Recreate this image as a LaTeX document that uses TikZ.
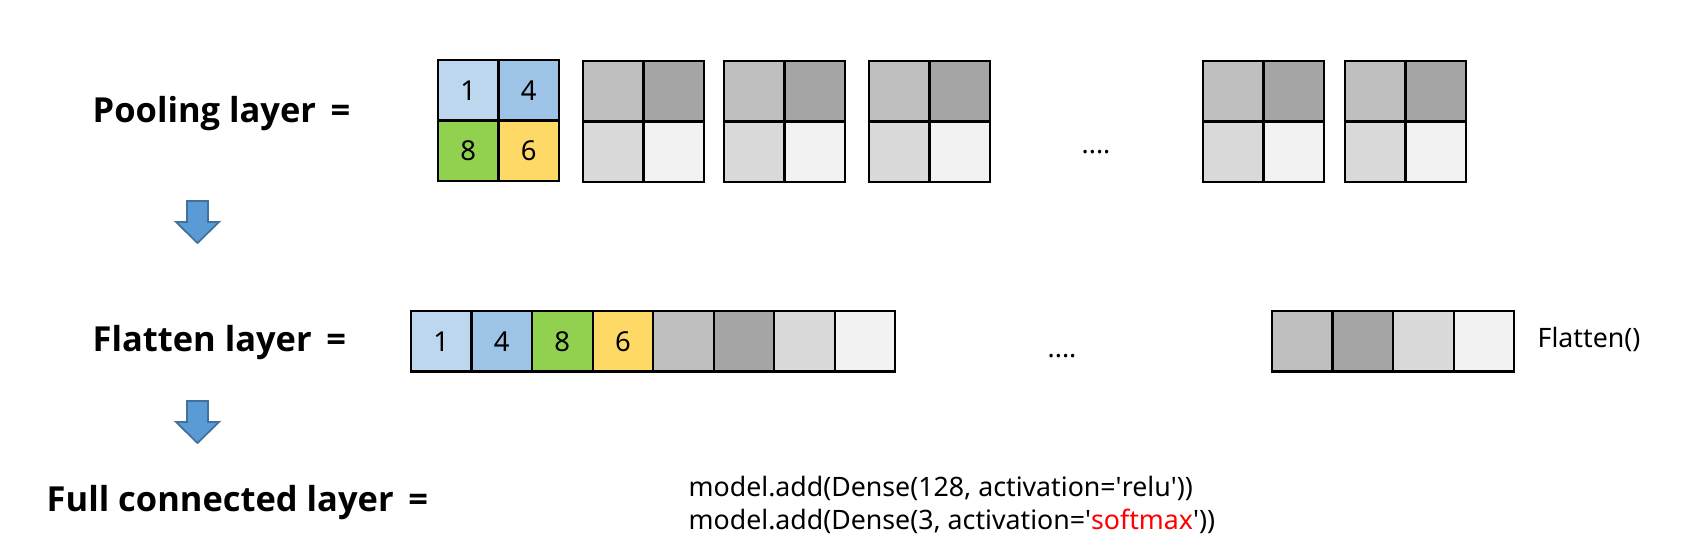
\documentclass[tikz,border=0pt]{standalone}
\usepackage{fontspec}
\setmainfont{Noto Sans}
\newfontfamily\titlefont{Open Sans}
\usetikzlibrary{positioning}
\definecolor{lblue}{HTML}{BDD7EE}
\definecolor{mblue}{HTML}{9DC3E6}
\definecolor{lgreen}{HTML}{92D050}
\definecolor{lyellow}{HTML}{FFD966}
\definecolor{gA}{HTML}{BFBFBF}
\definecolor{gB}{HTML}{A5A5A5}
\definecolor{gC}{HTML}{D9D9D9}
\definecolor{gD}{HTML}{F2F2F2}
\definecolor{arrfill}{HTML}{5B9BD5}
\definecolor{arrline}{HTML}{41719C}

\begin{document}
\begin{tikzpicture}[x=0.01cm, y=-0.01cm,
    cell/.style={draw=black, line width=0.6pt, minimum size=0.605cm, inner sep=0pt, outer sep=0pt,
      font=\fontsize{7.8}{9}\selectfont},
    title/.style={anchor=base west, inner sep=0pt, font=\titlefont\fontsize{9.8}{12}\selectfont\bfseries},
    code/.style={anchor=base west, inner sep=0pt, font=\fontsize{7.6}{9}\selectfont},
    downarrow/.style={fill=arrfill, draw=arrline, line width=0.5pt}]
  \useasboundingbox (0,0) rectangle (1693,555);

  % labels
  \node [title] (pool) at (92,123) {Pooling layer \,=};
  \node [title] (flat) at (92,352) {Flatten layer \,=};
  \node [title] (full) at (46,512) {Full connected layer \,=};

  % pooling layer
  \node [cell, fill=lblue, anchor=north west] (p1a) at (438,60) {1};
  \node [cell, fill=mblue, right=0pt of p1a] (p1b) {4};
  \node [cell, fill=lgreen, below=0pt of p1a] (p1c) {8};
  \node [cell, fill=lyellow, right=0pt of p1c] (p1d) {6};
  \foreach \n/\x in {2/583, 3/724, 4/869, 5/1203, 6/1345} {
    \node [cell, fill=gA, anchor=north west] (p\n a) at (\x,61) {};
    \node [cell, fill=gB, right=0pt of p\n a] (p\n b) {};
    \node [cell, fill=gC, below=0pt of p\n a] (p\n c) {};
    \node [cell, fill=gD, right=0pt of p\n c] (p\n d) {};
  };
  \node [code, anchor=base] (pdots) at (1096,154) {....};

  % flatten layer
  \node [cell, fill=lblue, anchor=north west] (f1) at (411,311) {1};
  \foreach \c/\t [count=\i from 2, evaluate=\i as \j using int(\i-1)] in
      {mblue/4, lgreen/8, lyellow/6, gA/, gB/, gC/, gD/} {
    \node [cell, fill=\c, right=0pt of f\j] (f\i) {\t};
  };
  \node [cell, fill=gA, anchor=north west] (g1) at (1272,311) {};
  \foreach \c [count=\i from 2, evaluate=\i as \j using int(\i-1)] in {gB, gC, gD} {
    \node [cell, fill=\c, right=0pt of g\j] (g\i) {};
  };
  \node [code, anchor=base] (fdots) at (1062,358) {....};
  \node [code] (fcall) at (1537,348) {Flatten()};

  % full connected layer
  \node [code] (dense1) at (688,497) {model.add(Dense(128, activation=\textquotesingle relu\textquotesingle))};
  \node [code] (dense2) at (688,530) {model.add(Dense(3, activation=\textquotesingle\textcolor{red}{softmax}\textquotesingle))};

  % block arrows
  \foreach \y [count=\k] in {201, 401} {
    \filldraw [downarrow] (187,\y) -- (208,\y) -- (208,\y+21) -- (219,\y+21) -- (197.5,\y+42)
      -- (176,\y+21) -- (187,\y+21) -- cycle;
  };
\end{tikzpicture}
\end{document}
